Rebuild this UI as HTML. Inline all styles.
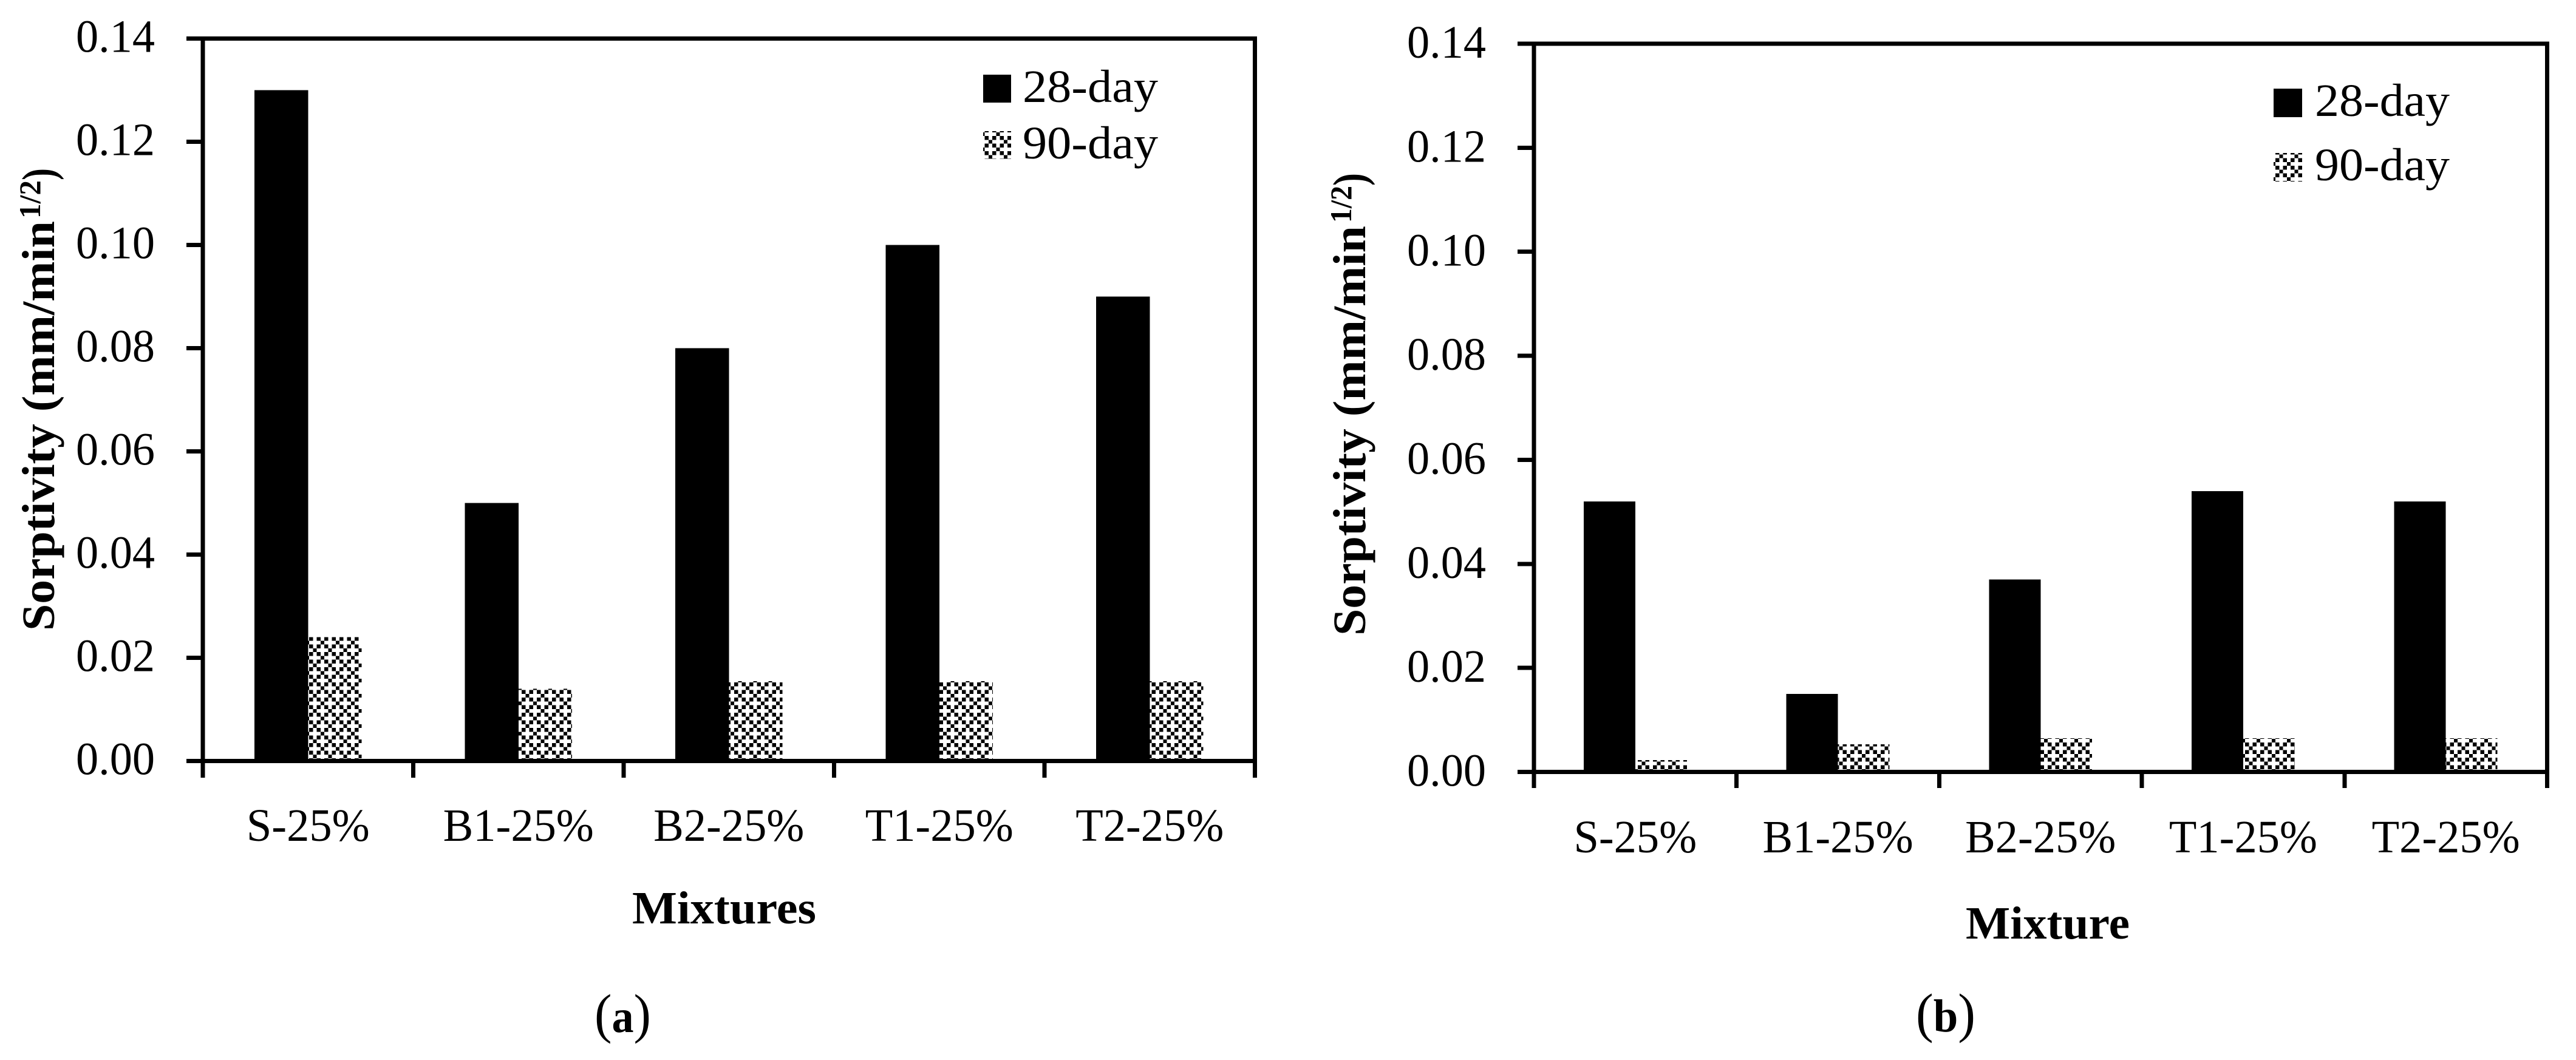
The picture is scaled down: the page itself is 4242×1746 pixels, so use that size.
<!DOCTYPE html>
<html lang="en">
<head>
<meta charset="utf-8">
<title>Sorptivity of mixtures</title>
<style>
html,body{margin:0;padding:0;background:#fff;}
svg{display:block;}
text{font-family:"Liberation Serif",serif;font-size:76px;fill:#000;}
.b{font-weight:700;}
.p{font-size:90px;}
</style>
</head>
<body>
<svg id="fig" xmlns="http://www.w3.org/2000/svg" width="4242" height="1746" viewBox="0 0 4242 1746">
  <defs>
    <pattern id="hatch-a" patternUnits="userSpaceOnUse" x="509" y="1049" width="25" height="25">
      <g fill="#000" shape-rendering="crispEdges">
        <rect x="0" y="0" width="6.25" height="6.25"/><rect x="12.5" y="0" width="6.25" height="6.25"/>
        <rect x="18.75" y="6.25" width="6.25" height="6.25"/>
        <rect x="0" y="12.5" width="6.25" height="6.25"/><rect x="12.5" y="12.5" width="6.25" height="6.25"/>
        <rect x="6.25" y="18.75" width="6.25" height="6.25"/>
      </g>
    </pattern>
    <pattern id="hatch-b" patternUnits="userSpaceOnUse" x="4047" y="1210.5" width="25" height="25">
      <g fill="#000" shape-rendering="crispEdges">
        <rect x="0" y="0" width="6.25" height="6.25"/><rect x="12.5" y="0" width="6.25" height="6.25"/>
        <rect x="18.75" y="6.25" width="6.25" height="6.25"/>
        <rect x="0" y="12.5" width="6.25" height="6.25"/><rect x="12.5" y="12.5" width="6.25" height="6.25"/>
        <rect x="6.25" y="18.75" width="6.25" height="6.25"/>
      </g>
    </pattern>
  </defs>

  <g id="panel-a"></g>
  <g id="panel-b"></g>

  <!-- Panel (a) static text -->
  <g>
    <text class="b" transform="translate(89,1039) rotate(-90)" textLength="675" lengthAdjust="spacingAndGlyphs">Sorptivity (mm/min</text>
    <text class="b" transform="translate(66,360) rotate(-90)" style="font-size:50px" textLength="63" lengthAdjust="spacingAndGlyphs">1/2</text>
    <text class="b" transform="translate(89,297) rotate(-90)" textLength="20" lengthAdjust="spacingAndGlyphs">)</text>
  </g>
  <text class="b" x="1041" y="1521" textLength="303" lengthAdjust="spacingAndGlyphs">Mixtures</text>
  <text x="979" y="1700" textLength="93" lengthAdjust="spacingAndGlyphs"><tspan class="p">(</tspan><tspan class="b">a</tspan><tspan class="p">)</tspan></text>
  <g>
    <g>
      <rect x="1619" y="123" width="46" height="46" fill="#000"/>
      <text x="1684" y="168" textLength="223" lengthAdjust="spacingAndGlyphs">28-day</text>
    </g>
    <g>
      <rect x="1619" y="216" width="46" height="46" fill="url(#hatch-a)"/>
      <text x="1684" y="261" textLength="223" lengthAdjust="spacingAndGlyphs">90-day</text>
    </g>
  </g>

  <!-- Panel (b) static text -->
  <g>
    <text class="b" transform="translate(2248,1047) rotate(-90)" textLength="675" lengthAdjust="spacingAndGlyphs">Sorptivity (mm/min</text>
    <text class="b" transform="translate(2225,367) rotate(-90)" style="font-size:50px" textLength="61" lengthAdjust="spacingAndGlyphs">1/2</text>
    <text class="b" transform="translate(2248,306) rotate(-90)" textLength="21" lengthAdjust="spacingAndGlyphs">)</text>
  </g>
  <text class="b" x="3237" y="1546" textLength="270" lengthAdjust="spacingAndGlyphs">Mixture</text>
  <text x="3155" y="1699" textLength="98" lengthAdjust="spacingAndGlyphs"><tspan class="p">(</tspan><tspan class="b">b</tspan><tspan class="p">)</tspan></text>
  <g>
    <g>
      <rect x="3744" y="146" width="47" height="47" fill="#000"/>
      <text x="3812" y="191" textLength="222" lengthAdjust="spacingAndGlyphs">28-day</text>
    </g>
    <g>
      <rect x="3744" y="252" width="47" height="47" fill="url(#hatch-b)"/>
      <text x="3812" y="297" textLength="222" lengthAdjust="spacingAndGlyphs">90-day</text>
    </g>
  </g>
</svg>

<script>
// Chart data
const categories = ['S-25%', 'B1-25%', 'B2-25%', 'T1-25%', 'T2-25%'];
const yTickLabels = ['0.00', '0.02', '0.04', '0.06', '0.08', '0.10', '0.12', '0.14'];
const panelA28Day = [0.130, 0.050, 0.080, 0.100, 0.090];
const panelA90Day = [0.024, 0.014, 0.0155, 0.0155, 0.0155];
const panelB28Day = [0.052, 0.015, 0.037, 0.054, 0.052];
const panelB90Day = [0.0023, 0.0053, 0.0065, 0.0065, 0.0065];

const NS = 'http://www.w3.org/2000/svg';

function make(parent, tag, name) {
  const el = document.createElementNS(NS, tag);
  
  
  parent.appendChild(el);
  return el;
}

function hline(parent, name, x1, x2, y, w) {
  const r = make(parent, 'rect', name);
  r.setAttribute('x', x1);
  r.setAttribute('y', y - w / 2);
  r.setAttribute('width', x2 - x1);
  r.setAttribute('height', w);
  r.setAttribute('shape-rendering', 'crispEdges');
}

function vline(parent, name, x, y1, y2, w) {
  const r = make(parent, 'rect', name);
  r.setAttribute('x', x - w / 2);
  r.setAttribute('y', y1);
  r.setAttribute('width', w);
  r.setAttribute('height', y2 - y1);
  r.setAttribute('shape-rendering', 'crispEdges');
}

function drawPanel(root, cfg, s28, s90) {
  const yMax = Number(yTickLabels[yTickLabels.length - 1]);
  const yScale = v => cfg.y0 - (v / yMax) * (cfg.y0 - cfg.yTop);
  const step = (cfg.xRight - cfg.xLeft) / categories.length;
  const xBand = i => cfg.xLeft + step * i;
  const barW = step * 0.2545;
  const lw = 7;

  // bars first, axes over them
  categories.forEach((c, i) => {
    const cx = xBand(i) + step / 2;
    const a = make(root, 'rect', 'bar-28-day-' + c);
    a.setAttribute('x', cx - barW);
    a.setAttribute('y', yScale(s28[i]));
    a.setAttribute('width', barW);
    a.setAttribute('height', cfg.y0 - yScale(s28[i]));
    a.setAttribute('fill', '#000');
    a.setAttribute('shape-rendering', 'crispEdges');
    const b = make(root, 'rect', 'bar-90-day-' + c);
    b.setAttribute('x', cx);
    b.setAttribute('y', yScale(s90[i]));
    b.setAttribute('width', barW);
    b.setAttribute('height', cfg.y0 - yScale(s90[i]));
    b.setAttribute('fill', 'url(#' + cfg.hatch + ')');
    b.setAttribute('shape-rendering', 'crispEdges');
  });

  // frame
  vline(root, 'y-axis-line', cfg.xLeft, cfg.yTop - lw / 2, cfg.tickBottom, lw);
  vline(root, 'right-frame-line', cfg.xRight, cfg.yTop - lw / 2, cfg.tickBottom, lw);
  hline(root, 'top-frame-line', cfg.tickLeft, cfg.xRight + lw / 2, cfg.yTop, lw);
  hline(root, 'x-axis-line', cfg.tickLeft, cfg.xRight + lw / 2, cfg.y0, lw);

  // y ticks + labels
  yTickLabels.forEach(label => {
    const y = yScale(Number(label));
    hline(root, 'y-tick-' + label, cfg.tickLeft, cfg.xLeft, y, lw);
    const t = make(root, 'text', 'y-tick-label-' + label);
    t.setAttribute('x', cfg.tickLabelX);
    t.setAttribute('y', y + cfg.tickLabelDy);
    t.setAttribute('text-anchor', 'end');
    t.setAttribute('textLength', 130);
    t.setAttribute('lengthAdjust', 'spacingAndGlyphs');
    t.textContent = label;
  });

  // x ticks + labels
  categories.forEach((c, i) => {
    if (i > 0) vline(root, 'x-tick-' + i, xBand(i), cfg.y0, cfg.tickBottom, lw);
    const t = make(root, 'text', 'x-tick-label-' + c);
    t.setAttribute('x', xBand(i) + step / 2);
    t.setAttribute('y', cfg.catBaseline);
    t.setAttribute('text-anchor', 'middle');
    t.textContent = c;
    t.setAttribute('textLength', (t.getComputedTextLength() * 0.98).toFixed(1));
    t.setAttribute('lengthAdjust', 'spacingAndGlyphs');
  });
}

drawPanel(document.getElementById('panel-a'), {
  xLeft: 334, xRight: 2066.5, y0: 1253.5, yTop: 63.5,
  tickLeft: 307, tickBottom: 1281, tickLabelX: 255, tickLabelDy: 22,
  catBaseline: 1385, hatch: 'hatch-a'
}, panelA28Day, panelA90Day);

drawPanel(document.getElementById('panel-b'), {
  xLeft: 2526, xRight: 4194.5, y0: 1271.5, yTop: 72,
  tickLeft: 2499, tickBottom: 1298, tickLabelX: 2447, tickLabelDy: 23,
  catBaseline: 1404, hatch: 'hatch-b'
}, panelB28Day, panelB90Day);
</script>
</body>
</html>
